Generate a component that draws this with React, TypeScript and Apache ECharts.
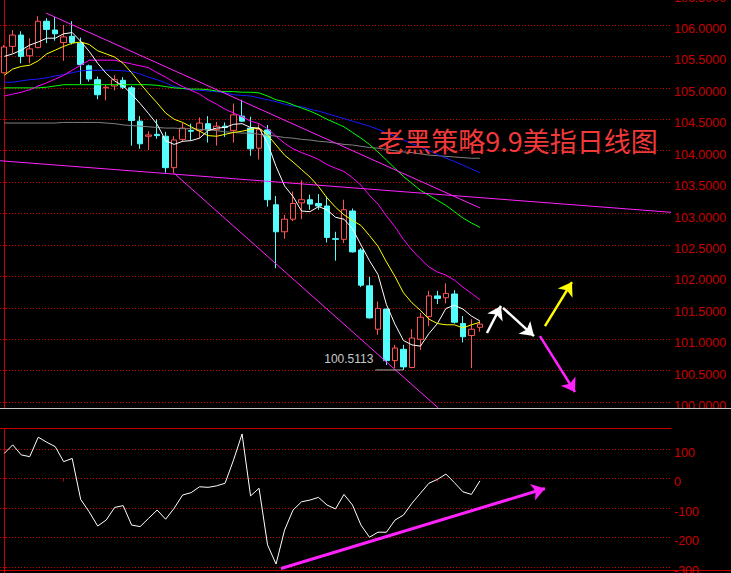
import { useEffect, useRef } from "react";
import * as echarts from "echarts";

// Daily USD index candles (open / close / low / high)
const opens = [105.24,105.66,105.84,105.51,105.64,106.06,105.92,105.72,105.82,105.71,105.35,105.13,105.00,105.03,105.12,105.00,104.47,104.23,104.26,104.23,103.73,104.18,104.32,104.32,104.43,104.34,104.39,104.32,104.55,104.36,104.04,104.33,103.14,102.71,102.91,103.17,103.22,103.16,103.12,102.60,102.59,103.04,102.42,101.85,101.16,101.48,100.66,100.84,100.55,101.00,101.36,101.69,101.66,101.72,101.25,101.06,101.19];
const closes = [105.65,105.84,105.50,105.62,106.06,105.93,105.86,105.81,105.72,105.37,105.14,104.89,105.01,105.13,105.01,104.48,104.11,104.25,104.24,103.73,104.17,104.36,104.31,104.44,104.33,104.39,104.37,104.57,104.47,104.03,104.34,103.22,102.71,102.91,103.16,103.22,103.15,103.12,102.62,102.59,103.06,102.39,101.86,101.34,101.49,100.66,100.86,100.56,101.02,101.35,101.69,101.65,101.73,101.27,101.04,101.16,101.24];
const highs = [105.68,105.92,105.90,105.79,106.14,106.11,106.13,106.00,106.06,105.80,105.37,105.18,105.05,105.20,105.17,105.03,104.55,104.31,104.50,104.30,104.23,104.44,104.43,104.53,104.55,104.46,104.45,104.75,104.81,104.54,104.42,104.41,103.28,102.98,103.35,103.53,103.30,103.31,103.27,102.71,103.22,103.08,102.45,101.99,101.60,101.49,100.91,100.91,101.16,101.42,101.77,101.77,101.89,101.78,101.37,101.32,101.29];
const lows = [105.23,105.55,105.39,105.39,105.63,105.71,105.75,105.43,105.69,105.06,105.10,104.82,104.80,104.96,104.98,104.08,104.03,104.01,104.19,103.65,103.64,104.14,104.17,104.20,104.13,104.08,104.22,104.13,104.46,103.92,103.86,103.11,102.13,102.60,102.88,102.91,103.06,103.06,102.54,102.25,102.53,102.38,101.83,101.33,101.07,100.59,100.54,100.5113,100.54,100.83,101.21,101.56,101.57,101.25,100.95,100.54,101.12];

// Moving averages
const ma5 = [105.50,105.54,105.60,105.68,105.73,105.79,105.79,105.86,105.88,105.74,105.58,105.39,105.23,105.11,105.03,104.90,104.75,104.59,104.42,104.16,104.10,104.15,104.16,104.20,104.32,104.36,104.37,104.42,104.43,104.37,104.36,104.12,103.75,103.44,103.27,103.04,103.03,103.11,103.06,102.94,102.91,102.76,102.50,102.25,102.03,101.55,101.24,100.98,100.91,100.89,101.09,101.25,101.49,101.54,101.48,101.37,101.29];
const ma10 = [105.20,105.30,105.34,105.36,105.43,105.54,105.60,105.66,105.71,105.73,105.69,105.59,105.54,105.49,105.39,105.24,105.07,104.91,104.76,104.60,104.50,104.45,104.38,104.31,104.24,104.23,104.26,104.29,104.31,104.34,104.36,104.25,104.09,103.93,103.82,103.70,103.58,103.43,103.25,103.10,102.98,102.89,102.81,102.65,102.48,102.23,102.00,101.74,101.58,101.46,101.32,101.25,101.23,101.23,101.18,101.23,101.27];
const ma20 = [104.87,104.90,104.93,104.97,105.03,105.08,105.14,105.20,105.28,105.36,105.44,105.44,105.44,105.44,105.41,105.38,105.35,105.32,105.24,105.17,105.09,105.02,104.96,104.90,104.81,104.74,104.66,104.60,104.54,104.47,104.43,104.35,104.23,104.12,104.03,103.97,103.92,103.86,103.78,103.72,103.67,103.57,103.45,103.29,103.15,102.96,102.79,102.59,102.42,102.28,102.15,102.07,102.02,101.94,101.83,101.73,101.63];
const ma40 = [105.00,105.00,105.00,105.00,105.00,105.01,105.03,105.05,105.05,105.05,105.05,105.05,105.05,105.05,105.05,105.05,105.05,105.05,105.04,105.02,105.00,104.99,104.98,104.98,104.97,104.95,104.94,104.94,104.93,104.93,104.92,104.87,104.81,104.78,104.73,104.68,104.63,104.57,104.50,104.44,104.38,104.29,104.20,104.10,103.98,103.85,103.72,103.59,103.48,103.37,103.29,103.21,103.13,103.03,102.93,102.85,102.78];
const ma60 = [105.09,105.09,105.11,105.13,105.14,105.16,105.19,105.21,105.24,105.27,105.28,105.28,105.28,105.28,105.27,105.26,105.22,105.17,105.13,105.08,105.02,104.99,104.97,104.96,104.95,104.94,104.92,104.89,104.88,104.87,104.84,104.81,104.78,104.74,104.71,104.70,104.66,104.63,104.59,104.55,104.51,104.47,104.43,104.39,104.34,104.28,104.23,104.17,104.11,104.06,104.00,103.94,103.88,103.83,103.77,103.71,103.65];
const ma120 = [104.44,104.44,104.44,104.44,104.44,104.44,104.44,104.45,104.45,104.45,104.45,104.45,104.44,104.43,104.41,104.40,104.39,104.38,104.37,104.36,104.36,104.35,104.35,104.34,104.33,104.32,104.30,104.29,104.28,104.28,104.26,104.25,104.23,104.21,104.20,104.18,104.17,104.15,104.14,104.12,104.10,104.09,104.07,104.05,104.04,104.02,104.00,103.98,103.97,103.95,103.93,103.92,103.91,103.90,103.89,103.88,103.88];

// CCI indicator
const cci = [85,114,80,74,140,123,108,57,68,-71,-113,-161,-141,-98,-92,-158,-163,-135,-107,-138,-101,-56,-48,-28,-30,-25,-16,63,151,-59,-33,-225,-290,-175,-107,-79,-73,-64,-90,-103,-54,-90,-158,-199,-182,-182,-141,-124,-84,-50,-16,-3,15,-14,-45,-54,-8];

// Hand-drawn trend lines and forecast arrows: [slot, value] pairs
const trendUpper = [[4.92, 106.19], [56, 103.09]];
const trendFlat = [[-0.5, 103.84], [78.5, 103.02]];
const trendLower = [[20, 103.64], [51.07, 99.91]];
const arrowUp1 = [[56.83, 101.10], [58.48, 101.53]];
const arrowDown1 = [[58.72, 101.50], [62.37, 101.05]];
const arrowBull = [[63.66, 101.21], [66.84, 101.91]];
const arrowBear = [[63.07, 101.05], [67.2, 100.16]];
const arrowCci = [[32.58, -305], [63.66, -34]];

const lowIndex = 47;
const lowValue = 100.5113;
const lowLabelFrom = 43.7;

const slotCount = 79;
const slots = Array.from({ length: slotCount }, (_, i) => String(i + 1));
const monthTicks = [7, 51];

const title = "老黑策略9.9美指日线图";

const RED_AXIS = "#c80000";
const UP = "#ff5252";
const DOWN = "#54fcfc";
const MAGENTA = "#ff22ff";
const AXIS_FONT = '"Liberation Sans", Arial, sans-serif';

// The canvas is raised by SHIFT px so the top price row can sit partly above the page edge.
const SHIFT = 20;

export default function App() {
  const ref = useRef<HTMLDivElement>(null);

  useEffect(() => {
    if (!ref.current) return;
    const chart = echarts.init(ref.current, undefined, { renderer: "svg" });

    const candleData = opens.map((o, i) => [o, closes[i], lows[i], highs[i]]);

    const maLine = (name: string, data: number[], color: string) => ({
      type: "line",
      name,
      data,
      xAxisIndex: 0,
      yAxisIndex: 0,
      symbol: "none",
      silent: true,
      lineStyle: { color, width: 1 },
      z: 3,
    });

    const trend = (name: string, data: number[][]) => ({
      type: "line",
      name,
      data,
      xAxisIndex: 1,
      yAxisIndex: 0,
      symbol: "none",
      silent: true,
      lineStyle: { color: MAGENTA, width: 1 },
      z: 3,
    });

    const arrowPair = (pts: number[][], color: string, width: number) => [
      { coord: pts[0], lineStyle: { color, width, type: "solid" } },
      { coord: pts[1], lineStyle: { color, width, type: "solid" } },
    ];

    const option = {
      backgroundColor: "#000",
      animation: false,
      grid: [
        { left: 0, right: 60, top: SHIFT - 6.43, height: 439.95, outerBoundsMode: "none", containLabel: false },
        { left: 0, right: 60, top: SHIFT + 419.5, height: 177, outerBoundsMode: "none", containLabel: false },
      ],
      xAxis: [
        { type: "category", gridIndex: 0, data: slots, boundaryGap: true, show: false },
        { type: "value", gridIndex: 0, min: -0.5, max: slotCount - 0.5, show: false },
        {
          type: "category",
          gridIndex: 1,
          data: slots,
          boundaryGap: true,
          offset: -26,
          axisLine: { show: false },
          axisLabel: { show: false },
          splitLine: { show: false },
          axisTick: {
            show: true,
            alignWithLabel: true,
            length: 3,
            interval: (i: number) => monthTicks.includes(i),
            lineStyle: { color: RED_AXIS },
          },
        },
        { type: "value", gridIndex: 1, min: -0.5, max: slotCount - 0.5, show: false },
      ],
      yAxis: [
        {
          type: "value",
          gridIndex: 0,
          position: "right",
          min: 99.5,
          max: 106.5,
          interval: 0.5,
          axisLine: { show: true, lineStyle: { color: RED_AXIS, width: 1 } },
          axisTick: { show: true, length: 3, lineStyle: { color: RED_AXIS } },
          axisLabel: {
            color: RED_AXIS,
            fontSize: 12.5,
            fontFamily: AXIS_FONT,
            margin: 3,
            verticalAlign: "top",
            lineHeight: 8,
            showMinLabel: false,
            formatter: (v: number) => v.toFixed(4),
          },
          splitLine: {
            show: true,
            showMinLine: false,
            lineStyle: { color: RED_AXIS, width: 1, type: [1, 2] },
          },
        },
        {
          type: "value",
          gridIndex: 1,
          position: "right",
          min: -400,
          max: 200,
          interval: 100,
          axisLine: { show: true, lineStyle: { color: RED_AXIS, width: 1 } },
          axisTick: { show: true, length: 3, lineStyle: { color: RED_AXIS } },
          axisLabel: {
            color: RED_AXIS,
            fontSize: 12.5,
            fontFamily: AXIS_FONT,
            margin: 3,
            verticalAlign: "top",
            lineHeight: 7,
            showMinLabel: false,
            showMaxLabel: false,
            formatter: (v: number) => String(v),
          },
          splitLine: {
            show: true,
            showMinLine: false,
            showMaxLine: false,
            lineStyle: { color: RED_AXIS, width: 1, type: [1, 2] },
          },
        },
      ],
      series: [
        {
          type: "candlestick",
          name: "USDX",
          xAxisIndex: 0,
          yAxisIndex: 0,
          data: candleData,
          barWidth: 6,
          silent: true,
          itemStyle: {
            color: "#000",
            color0: DOWN,
            borderColor: UP,
            borderColor0: DOWN,
            borderWidth: 1,
          },
          z: 2,
        },
        maLine("MA120", ma120, "#808080"),
        maLine("MA60", ma60, "#1a1aff"),
        maLine("MA40", ma40, "#00ff00"),
        maLine("MA20", ma20, "#ff00ff"),
        maLine("MA10", ma10, "#ffff00"),
        maLine("MA5", ma5, "#ffffff"),
        trend("upper", trendUpper),
        trend("flat", trendFlat),
        trend("lower", trendLower),
        {
          type: "line",
          name: "low",
          xAxisIndex: 1,
          yAxisIndex: 0,
          silent: true,
          symbol: "circle",
          symbolSize: 0,
          showSymbol: true,
          lineStyle: { color: "#a8a8a8", width: 1 },
          data: [
            {
              value: [lowLabelFrom, lowValue],
              label: {
                show: true,
                position: "left",
                distance: 2,
                offset: [0, -11],
                formatter: lowValue.toFixed(4),
                color: "#c8c8c8",
                fontSize: 12,
                fontFamily: AXIS_FONT,
              },
            },
            [lowIndex, lowValue],
          ],
          z: 4,
        },
        {
          type: "line",
          name: "arrows",
          xAxisIndex: 1,
          yAxisIndex: 0,
          data: [],
          markLine: {
            silent: true,
            symbol: ["none", "arrow"],
            symbolSize: 13,
            label: { show: false },
            emphasis: { disabled: true },
            data: [
              arrowPair(arrowUp1, "#ffffff", 2.5),
              arrowPair(arrowDown1, "#ffffff", 2.5),
              arrowPair(arrowBull, "#ffff00", 2.5),
              arrowPair(arrowBear, "#ff22ff", 2.5),
            ],
          },
          z: 5,
        },
        {
          type: "line",
          name: "CCI",
          xAxisIndex: 2,
          yAxisIndex: 1,
          data: cci,
          symbol: "none",
          silent: true,
          lineStyle: { color: "#ffffff", width: 1 },
        },
        {
          type: "line",
          name: "cciArrow",
          xAxisIndex: 3,
          yAxisIndex: 1,
          data: [],
          markLine: {
            silent: true,
            symbol: ["none", "arrow"],
            symbolSize: 13,
            label: { show: false },
            emphasis: { disabled: true },
            data: [arrowPair(arrowCci, "#ff22ff", 3)],
          },
        },
      ],
      graphic: [
        {
          type: "rect",
          silent: true,
          z: 50,
          shape: { x: 0, y: SHIFT + 409, width: 731, height: 19 },
          style: { fill: "#000" },
        },
        {
          type: "line",
          silent: true,
          z: 51,
          shape: { x1: 0, y1: SHIFT + 408.5, x2: 731, y2: SHIFT + 408.5 },
          style: { stroke: "#c8c8c8", lineWidth: 1 },
        },
        {
          type: "line",
          silent: true,
          z: 51,
          shape: { x1: 0, y1: SHIFT + 428.5, x2: 671.5, y2: SHIFT + 428.5 },
          style: { stroke: RED_AXIS, lineWidth: 1 },
        },
        {
          type: "line",
          silent: true,
          z: 51,
          shape: { x1: 0, y1: SHIFT + 570.5, x2: 731, y2: SHIFT + 570.5 },
          style: { stroke: RED_AXIS, lineWidth: 1 },
        },
        {
          type: "text",
          silent: true,
          z: 52,
          x: 517.5,
          y: SHIFT + 140,
          style: {
            text: title,
            fill: "#f03a3a",
            fontSize: 27,
            fontFamily: '"Noto Sans CJK SC", sans-serif',
            align: "center",
            verticalAlign: "middle",
          },
        },
      ],
    };

    chart.setOption(option as any);
    return () => chart.dispose();
  }, []);

  return (
    <div
      ref={ref}
      style={{
        position: "absolute",
        left: 0,
        top: -SHIFT,
        width: 731,
        height: 573 + SHIFT,
        background: "#000",
      }}
    />
  );
}
